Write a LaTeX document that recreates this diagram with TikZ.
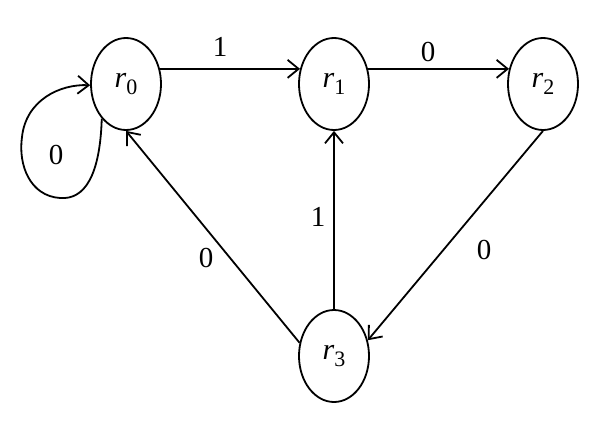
\documentclass[tikz,border=0pt]{standalone}
\usepackage{fontspec}
\setmainfont{Liberation Serif}
\usepackage{tikz}
\usetikzlibrary{shapes.geometric,arrows.meta,positioning,calc}

\newcommand{\rlab}[1]{\textit{r}\raisebox{-0.55ex}{\fontsize{22}{22}\selectfont #1}}

\begin{document}
\begin{tikzpicture}[x=1pt,y=1pt,
    state/.style={draw, ellipse, line width=1.8pt, minimum width=70pt, minimum height=92pt, inner sep=0pt, font=\fontsize{30}{33}\selectfont},
    edge/.style={line width=1.8pt, -{Straight Barb[length=11pt,width=18pt,line width=1.8pt]}},
    lab/.style={font=\fontsize{29}{32}\selectfont}]
    \useasboundingbox[fill=white] (0,0) rectangle (600,-423);

    % States
    \node[state] (r0) at (126,-84) {\rlab{0}};
    \node[state] (r1) at (334,-84) {\rlab{1}};
    \node[state] (r2) at (543,-84) {\rlab{2}};
    \node[state] (r3) at (334,-356) {\rlab{3}};

    % Transitions
    \draw[edge] (r0.24) -- (r1.156);
    \draw[edge] (r1.24) -- (r2.156);
    \draw[edge] (r3.north) -- (r1.south);
    \draw[edge] (r2.south) -- (r3.25);
    \draw[edge] (r3.159) -- (r0.south);

    % Self loop on r0
    \draw[edge] (r0.235) .. controls (100,-175) and (85,-200) .. (60,-198)
        .. controls (30,-196) and (18,-165) .. (22,-137)
        .. controls (26,-100) and (60,-84) .. (r0.182);

    % Labels
    \node[lab] (l01) at (220,-47) {1};
    \node[lab] (l12) at (428,-52) {0};
    \node[lab] (l00) at (56,-155) {0};
    \node[lab] (l31) at (318,-217) {1};
    \node[lab] (l30) at (206,-258) {0};
    \node[lab] (l23) at (484,-250) {0};
\end{tikzpicture}
\end{document}
